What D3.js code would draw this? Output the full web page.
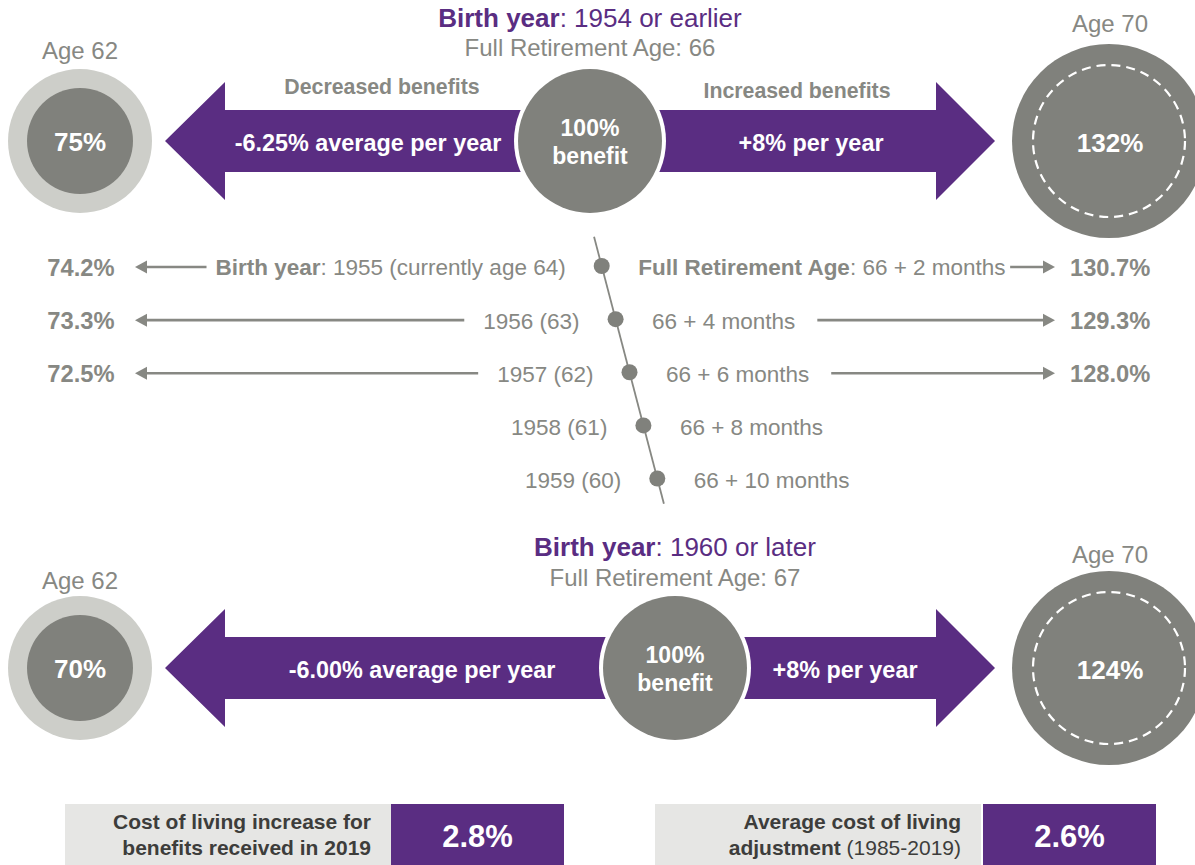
<!DOCTYPE html>
<html>
<head>
<meta charset="utf-8">
<title>Social Security benefit by claiming age</title>
<script src="https://d3js.org/d3.v7.min.js"></script>
<style>
  body { margin: 0; background: #fff; }
  svg { display: block; font-family: "Liberation Sans", Arial, sans-serif; }
</style>
</head>
<body>
<svg width="1195" height="865"></svg>
<script>
// two main scenarios (top: born 1954 or earlier, bottom: born 1960 or later)
var scenarioBirth = ["1954 or earlier", "1960 or later"];
var scenarioFRA = [66, 67];
var earlyPct = [75, 70];          // benefit if claimed at 62
var earlyRate = ["-6.25%", "-6.00%"];
var latePct = [132, 124];         // benefit if claimed at 70
var lateRate = ["+8%", "+8%"];

// transition birth years
var birthYears = [1955, 1956, 1957, 1958, 1959];
var currentAge = [64, 63, 62, 61, 60];
var fraMonths = [2, 4, 6, 8, 10];
var pctAt62 = [74.2, 73.3, 72.5, null, null];
var pctAt70 = [130.7, 129.3, 128.0, null, null];

// cost of living boxes
var colaLabels = [
  [[["Cost of living increase for", true]], [["benefits received in 2019", true]]],
  [[["Average cost of living", true]], [["adjustment", true], [" (1985-2019)", false]]]
];
var colaValues = [2.8, 2.6];

var purple = "#5a2d82", grey = "#80817c", lightGrey = "#cdcec9",
    textGrey = "#878883", dark = "#3d3d3b";

var svg = d3.select("svg");

// text with bold / regular runs
function label(g, x, y, parts, size, color, anchor) {
  var t = g.append("text")
    .attr("x", x).attr("y", y).attr("dy", "0.35em")
    .attr("text-anchor", anchor || "middle")
    .attr("font-size", size)
    .attr("fill", color);
  parts.forEach(function (p) {
    t.append("tspan").attr("font-weight", p[1] ? "bold" : "normal").text(p[0]);
  });
  return t;
}

// layout of the two big diagrams
var layout = [
  {cy: 141, mx: 590, titleY: 18, fraY: 48, age62Y: 51, age70Y: 24, lx: 368, rx: 811},
  {cy: 668, mx: 675, titleY: 547, fraY: 578, age62Y: 581, age70Y: 555, lx: 422, rx: 845}
];

var tipL = 165, baseL = 225, baseR = 936, tipR = 995, headH = 59, shaftH = 31;
var line = d3.line();

layout.forEach(function (L, i) {
  var g = svg.append("g");
  var cy = L.cy;

  // double arrow
  var pts = [[tipL, cy], [baseL, cy - headH], [baseL, cy - shaftH], [baseR, cy - shaftH],
             [baseR, cy - headH], [tipR, cy], [baseR, cy + headH], [baseR, cy + shaftH],
             [baseL, cy + shaftH], [baseL, cy + headH]];
  g.append("path").attr("d", line(pts) + "Z").attr("fill", purple);

  // age 62 circle
  g.append("circle").attr("cx", 80).attr("cy", cy).attr("r", 72).attr("fill", lightGrey);
  g.append("circle").attr("cx", 80).attr("cy", cy).attr("r", 53).attr("fill", grey);
  label(g, 80, cy + 1, [[earlyPct[i] + "%", true]], 26, "#fff");
  label(g, 80, L.age62Y, [["Age 62", false]], 24, textGrey);

  // age 70 circle
  g.append("circle").attr("cx", 1109).attr("cy", cy).attr("r", 97).attr("fill", grey);
  g.append("circle").attr("cx", 1109).attr("cy", cy).attr("r", 76)
    .attr("fill", "none").attr("stroke", "#fff").attr("stroke-width", 2.2)
    .attr("stroke-dasharray", "9 6");
  label(g, 1110, cy + 2, [[latePct[i] + "%", true]], 26, "#fff");
  label(g, 1110, L.age70Y, [["Age 70", false]], 24, textGrey);

  // full retirement age circle
  g.append("circle").attr("cx", L.mx).attr("cy", cy).attr("r", 76).attr("fill", "#fff");
  g.append("circle").attr("cx", L.mx).attr("cy", cy).attr("r", 72).attr("fill", grey);
  label(g, L.mx, cy - 13, [["100%", true]], 23, "#fff");
  label(g, L.mx, cy + 15, [["benefit", true]], 23, "#fff");

  // titles
  label(g, L.mx, L.titleY, [["Birth year", true], [": " + scenarioBirth[i], false]], 26, purple);
  label(g, L.mx, L.fraY, [["Full Retirement Age: " + scenarioFRA[i], false]], 24, textGrey);

  // arrow texts
  label(g, L.lx, cy + 2, [[earlyRate[i] + " average per year", true]], 23.4, "#fff");
  label(g, L.rx, cy + 2, [[lateRate[i] + " per year", true]], 23.4, "#fff");

  if (i === 0) {
    label(g, 382, 87, [["Decreased benefits", true]], 21.3, textGrey);
    label(g, 797, 91, [["Increased benefits", true]], 21.3, textGrey);
  }
});

// transition years in the middle
var yM = d3.scaleLinear().domain([2, 10]).range([266, 478.5]);
var xM = d3.scaleLinear().domain([2, 10]).range([601.7, 657.3]);
var mid = svg.append("g");

mid.append("line")
  .attr("x1", xM(0.9)).attr("y1", yM(0.9))
  .attr("x2", xM(10.95)).attr("y2", yM(10.95))
  .attr("stroke", textGrey).attr("stroke-width", 1.8);

function hArrow(x1, x2, y) {
  var dir = x2 > x1 ? 1 : -1, headL = 12, headW = 6.5;
  mid.append("line")
    .attr("x1", x1).attr("y1", y).attr("x2", x2 - dir * headL + dir).attr("y2", y)
    .attr("stroke", textGrey).attr("stroke-width", 2.6);
  mid.append("path")
    .attr("d", line([[x2, y], [x2 - dir * headL, y - headW], [x2 - dir * headL, y + headW]]) + "Z")
    .attr("fill", textGrey);
}

fraMonths.forEach(function (m, i) {
  var y = yM(m), x = xM(m);
  mid.append("circle").attr("cx", x).attr("cy", y).attr("r", 8).attr("fill", grey);

  var leftParts = i === 0
    ? [["Birth year", true], [": " + birthYears[i] + " (currently age " + currentAge[i] + ")", false]]
    : [[birthYears[i] + " (" + currentAge[i] + ")", false]];
  var rightParts = i === 0
    ? [["Full Retirement Age", true], [": " + scenarioFRA[0] + " + " + m + " months", false]]
    : [[scenarioFRA[0] + " + " + m + " months", false]];

  var lt = label(mid, x - 36, y + 1.5, leftParts, 22.5, textGrey, "end");
  var rt = label(mid, x + 36.5, y + 1.5, rightParts, 22.5, textGrey, "start");

  if (pctAt62[i] != null) {
    label(mid, 114.5, y + 1.5, [[pctAt62[i].toFixed(1) + "%", true]], 23.7, textGrey, "end");
    var lw = lt.node().getComputedTextLength();
    hArrow(x - 36 - lw - (i === 0 ? 9 : 19), 135, y + 1);
  }
  if (pctAt70[i] != null) {
    label(mid, 1070, y + 1.5, [[pctAt70[i].toFixed(1) + "%", true]], 23.7, textGrey, "start");
    var rw = rt.node().getComputedTextLength();
    hArrow(x + 36.5 + rw + (i === 0 ? 4.5 : 22), 1055, y + 1);
  }
});

// cost of living boxes
var boxX = [65, 655], greyW = 326, gap = [0, 2], purpleW = 173, boxY = 804, boxH = 61;
var box = svg.append("g");
colaValues.forEach(function (v, i) {
  box.append("rect").attr("x", boxX[i]).attr("y", boxY).attr("width", greyW).attr("height", boxH)
    .attr("fill", "#e6e6e4");
  var px = boxX[i] + greyW + gap[i];
  box.append("rect").attr("x", px).attr("y", boxY).attr("width", purpleW).attr("height", boxH)
    .attr("fill", purple);
  colaLabels[i].forEach(function (parts, j) {
    label(box, boxX[i] + greyW - 20, 822 + j * 26, parts, 21, dark, "end");
  });
  label(box, px + purpleW / 2, 836, [[v.toFixed(1) + "%", true]], 31, "#fff");
});
</script>
</body>
</html>
